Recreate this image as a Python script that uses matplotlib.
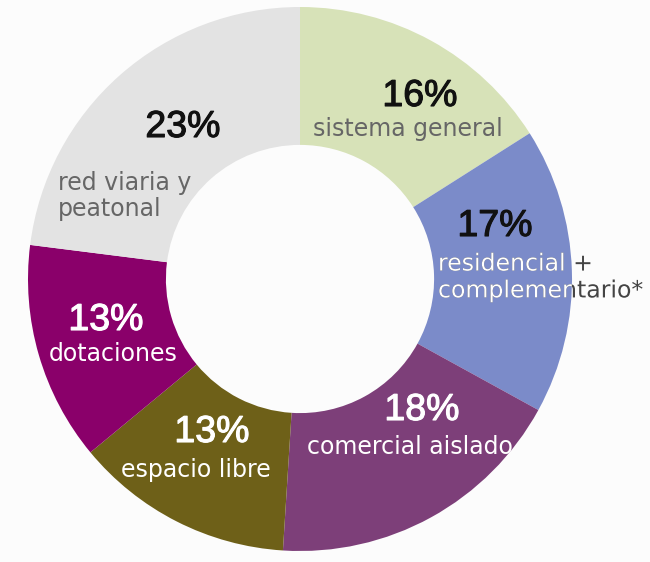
import matplotlib
matplotlib.use("Agg")
import matplotlib.pyplot as plt
import matplotlib.patheffects as pe

# data, clockwise from 12 o'clock
categories = ["sistema general", "residencial +\ncomplementario*", "comercial aislado",
              "espacio libre", "dotaciones", "red viaria y\npeatonal"]
shares = [16, 17, 18, 13, 13, 23]
colors = ["#d7e2b8", "#7b8bc9", "#7d3f79", "#6e6018", "#8a006a", "#e3e3e3"]
pct_colors = ["#111111", "#111111", "#ffffff", "#ffffff", "#ffffff", "#111111"]
lab_colors = ["#666666", "#ffffff", "#ffffff", "#ffffff", "#ffffff", "#666666"]

W, H = 650, 562
cx, cy, R = 300, 279, 272

fig = plt.figure(figsize=(W / 100, H / 100), dpi=100)
fig.patch.set_facecolor("#fcfcfc")
ax = fig.add_axes([(cx - R) / W, (H - cy - R) / H, 2 * R / W, 2 * R / H])

wedges, _ = ax.pie(shares, colors=colors, startangle=90, counterclock=False,
                   radius=1, wedgeprops=dict(width=0.507, linewidth=0))
ax.set_xlim(-1, 1)
ax.set_ylim(-1, 1)
ax.axis("off")


def px(x, y):
    # pixel position in the reference -> data coords of the donut axes
    return (x - cx) / R, (cy - y) / R


# (percent label centre, category label anchor, alignment) in reference pixels
label_pos = [
    ((420, 96), (408, 129), "center"),
    ((495, 226), (438, 277), "left"),
    ((422, 410), (410, 447), "center"),
    ((212, 432), (196, 470), "center"),
    ((106, 320), (113, 354), "center"),
    ((183, 127), (58, 196), "left"),
]

for i, (pp, lp, ha) in enumerate(label_pos):
    # a thin stroke in the same colour makes the percentages a little heavier
    ax.text(*px(*pp), f"{shares[i]}%", ha="center", va="center",
            fontsize=27, family="Liberation Sans", color=pct_colors[i],
            path_effects=[pe.withStroke(linewidth=0.8, foreground=pct_colors[i])])
    if i == 1:
        # label spills over the edge of its wedge: grey outside, white inside
        ax.text(*px(*lp), categories[i], ha=ha, va="center", fontsize=17,
                family="DejaVu Sans", color="#444444", linespacing=1.15,
                path_effects=[pe.Normal()])
        t = ax.text(*px(*lp), categories[i], ha=ha, va="center", fontsize=17,
                    family="DejaVu Sans", color="#ffffff", linespacing=1.15,
                    path_effects=[pe.Normal()], clip_on=True)
        t.set_clip_path(wedges[i])
    else:
        ax.text(*px(*lp), categories[i], ha=ha, va="center", fontsize=17,
                family="DejaVu Sans", color=lab_colors[i], linespacing=1.15)

fig.savefig("out.png", dpi=100, facecolor=fig.get_facecolor())
